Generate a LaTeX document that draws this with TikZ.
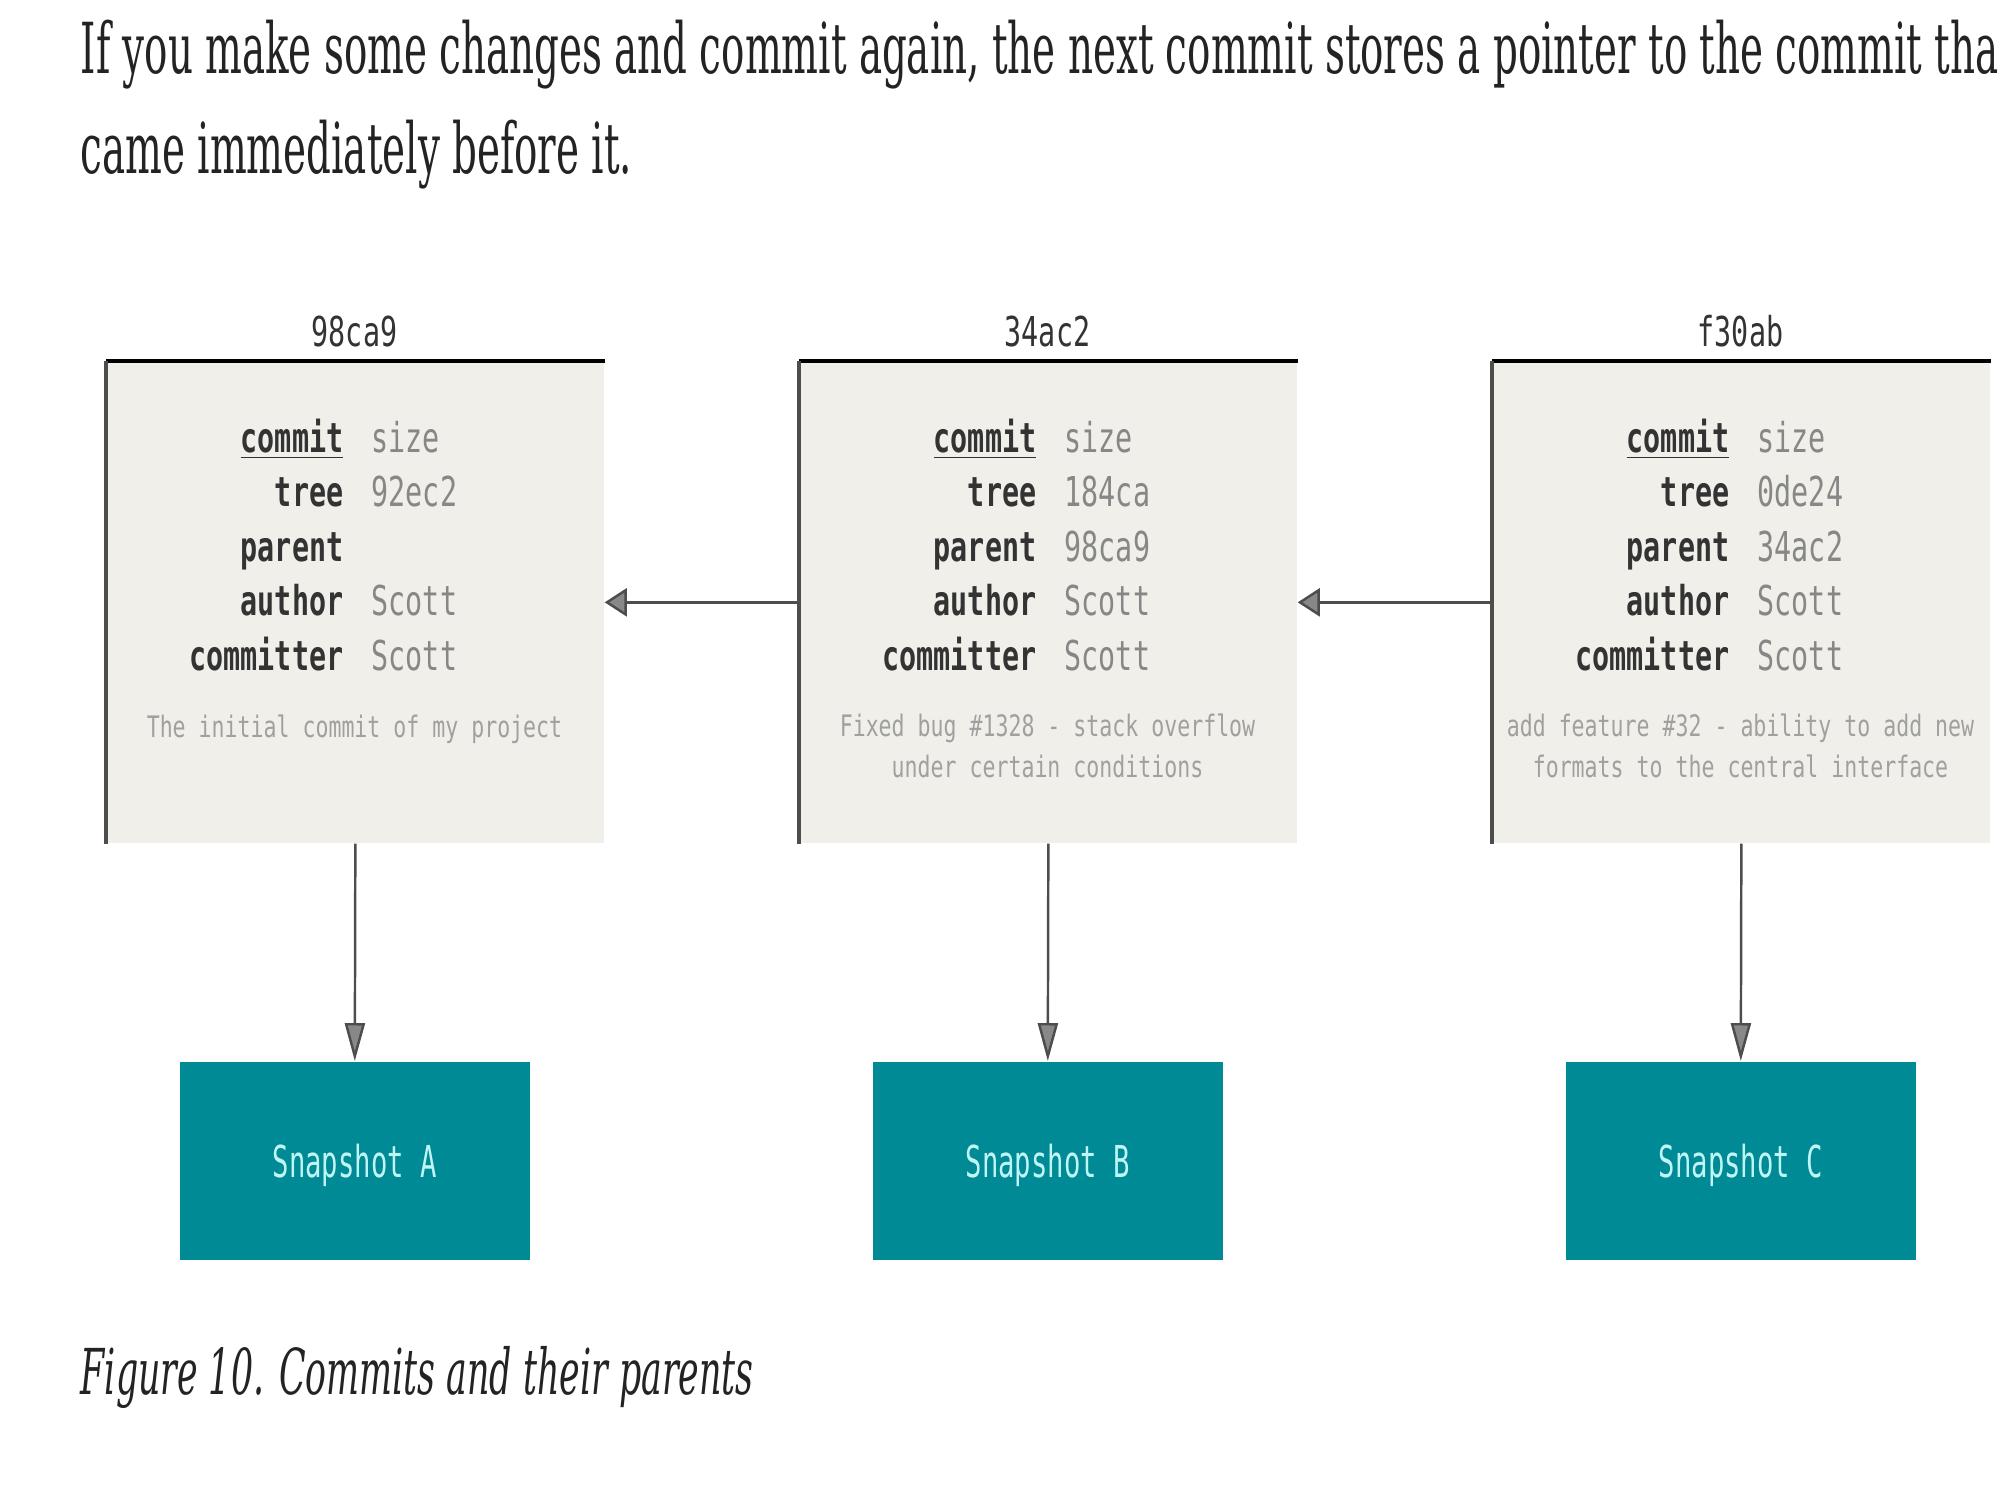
\documentclass[tikz,border=0pt]{standalone}
\usepackage{fontspec}
\setmainfont[FakeStretch=0.552]{DejaVu Serif}
\newfontfamily\capfont[FakeStretch=0.55]{DejaVu Serif}
\newfontfamily\codefont[FakeStretch=0.69]{DejaVu Sans Mono}
\newfontfamily\msgfont[FakeStretch=0.73]{DejaVu Sans Mono}
\newfontfamily\snapfont[FakeStretch=0.62]{DejaVu Sans Mono}
\usetikzlibrary{positioning,arrows.meta}

\definecolor{boxfill}{RGB}{240,239,233}
\definecolor{snapfill}{RGB}{0,138,150}
\definecolor{snaptext}{RGB}{190,245,245}
\definecolor{keygray}{RGB}{51,51,51}
\definecolor{valgray}{RGB}{135,135,135}
\definecolor{msggray}{RGB}{160,160,160}
\definecolor{linegray}{RGB}{77,77,77}
\definecolor{tipgray}{RGB}{136,136,136}
\definecolor{bodytext}{RGB}{35,35,35}

\tikzset{
    commitbox/.style={rectangle, fill=boxfill, minimum width=4.97cm, minimum height=4.81cm, inner sep=0pt, anchor=north west},
    snapbox/.style={rectangle, fill=snapfill, minimum width=3.5cm, minimum height=1.98cm, inner sep=0pt, text depth=0pt, anchor=north west, text=snaptext, font=\snapfont\fontsize{12.5}{14}\selectfont},
    hashtext/.style={anchor=base, inner sep=0pt, text=keygray, font=\codefont\fontsize{11.7}{14}\selectfont},
    keytext/.style={anchor=base east, inner sep=0pt, text=keygray, font=\codefont\bfseries\fontsize{11.7}{14}\selectfont},
    valtext/.style={anchor=base west, inner sep=0pt, text=valgray, font=\codefont\fontsize{11.7}{14}\selectfont},
    msgtext/.style={anchor=base, inner sep=0pt, align=center, text=msggray, font=\msgfont\fontsize{8.4}{11.4}\selectfont},
    bodyline/.style={anchor=base west, inner sep=0pt, text=bodytext, font=\fontsize{20}{24}\selectfont},
    vpointer/.style={draw=linegray, line width=0.7pt, -{Triangle[length=10.8pt, width=5.7pt, fill=tipgray]}},
    hpointer/.style={draw=linegray, line width=0.7pt, -{Triangle[length=6.3pt, width=8pt, fill=tipgray]}}
}

\begin{document}
\begin{tikzpicture}[x=0.01cm, y=-0.01cm]
    \useasboundingbox (0,0) rectangle (2000,1500);

    \node[bodyline] (line1) at (80,74) {If you make some changes and commit again, the next commit stores a pointer to the commit tha};
    \node[bodyline] (line2) at (80,174) {came immediately before it.};

    % commits and their snapshots (message y is the baseline of its last line)
    \foreach \i/\x/\hash/\tree/\parent/\msg/\msgy/\snap in {
        1/106/98ca9/92ec2/{}/{The initial commit of my project}/737/A,
        2/799/34ac2/184ca/98ca9/{Fixed bug \#1328 - stack overflow\\under certain conditions}/777/B,
        3/1492/f30ab/0de24/34ac2/{add feature \#32 - ability to add new\\formats to the central interface}/777/C}
    {
        \node[commitbox] (c\i) at (\x,361) {};
        \draw[line width=1.1pt] (c\i.north west) -- (c\i.north east);
        \draw[linegray, line width=0.9pt] (c\i.north west) -- (c\i.south west);
        \node[hashtext] (h\i) at (\x+248.5,346) {\hash};
        \foreach \key/\val [count=\row] in {\underline{commit}/size, tree/\tree, parent/\parent, author/Scott, committer/Scott}
        {
            \node[keytext] (k\i\row) at (\x+238,397.5+54.5*\row) {\key};
            \node[valtext] (v\i\row) at (\x+265,397.5+54.5*\row) {\val};
        }
        \node[msgtext] (m\i) at (\x+248.5,\msgy) {\msg};
        \node[snapbox] (s\i) at (\x+73,1061) {Snapshot \snap};
        \draw[vpointer] (c\i.south) -- (s\i.north);
    }

    % parent pointers
    \draw[hpointer] (c2.west) -- (c1.east);
    \draw[hpointer] (c3.west) -- (c2.east);

    \node[bodyline, font=\capfont\itshape\fontsize{18}{22}\selectfont] (caption) at (80,1394) {Figure 10. Commits and their parents};
\end{tikzpicture}
\end{document}
